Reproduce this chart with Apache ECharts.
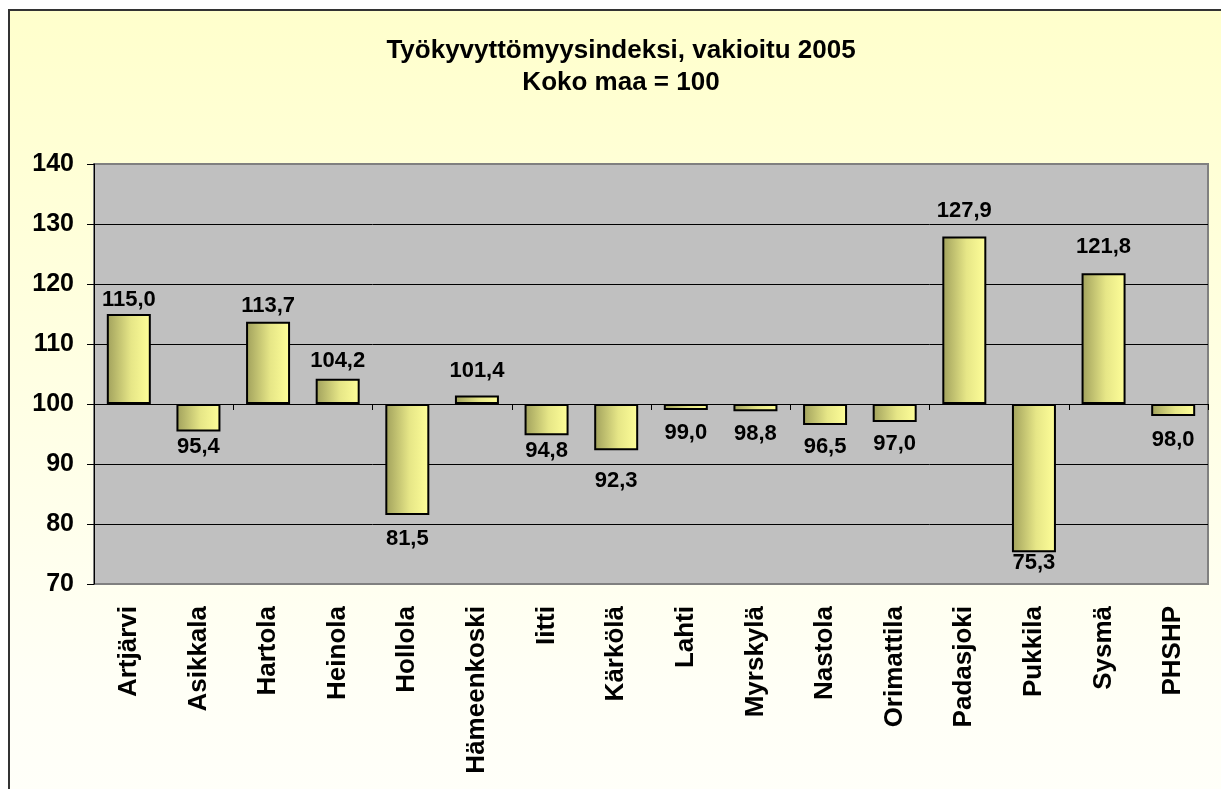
<!DOCTYPE html>
<html>
<head>
<meta charset="utf-8">
<script src="https://cdn.jsdelivr.net/npm/echarts@6/dist/echarts.min.js"></script>
<style>
  html, body { margin: 0; padding: 0; background: #fff; }
  #chart { width: 1221px; height: 789px; }
</style>
</head>
<body>
<div id="chart"></div>
<script>
// index is shown relative to the national level (100)
const categories = ['Artjärvi', 'Asikkala', 'Hartola', 'Heinola', 'Hollola', 'Hämeenkoski', 'Iitti', 'Kärkölä',
  'Lahti', 'Myrskylä', 'Nastola', 'Orimattila', 'Padasjoki', 'Pukkila', 'Sysmä', 'PHSHP']
const values = [115.0, 95.4, 113.7, 104.2, 81.5, 101.4, 94.8, 92.3, 99.0, 98.8, 96.5, 97.0, 127.9, 75.3, 121.8, 98.0]
const baseline = 100
const yTicks = [70, 80, 90, 100, 110, 120, 130, 140]

// labels in the original were nudged by hand, so each gets its own gap to the bar end
const labelGaps = [3, 4, 5, 7, 13, 14, 5, 20, 12, 12, 11, 11, 15, 0, 15, 13]

const font = '"Liberation Sans", Arial, sans-serif'

const chart = echarts.init(document.getElementById('chart'))

const barColor = new echarts.graphic.LinearGradient(0, 0, 1, 0, [
  { offset: 0, color: '#a0a05c' },
  { offset: 0.55, color: '#e6e687' },
  { offset: 1, color: '#ffff99' }
])

chart.setOption({
  animation: false,
  backgroundColor: '#fff',
  graphic: [{
    type: 'rect',
    z: -10,
    silent: true,
    shape: { x: 9, y: 10, width: 1300, height: 900 },
    style: {
      fill: new echarts.graphic.LinearGradient(0, 0, 0, 1, [
        { offset: 0, color: '#ffffcc' },
        { offset: 0.75, color: '#fffff6' },
        { offset: 1, color: '#fffffc' }
      ]),
      stroke: '#333',
      lineWidth: 2
    }
  }],
  title: {
    text: 'Työkyvyttömyysindeksi, vakioitu 2005\nKoko maa = 100',
    left: 616,
    top: 30,
    textAlign: 'center',
    textStyle: { fontFamily: font, fontWeight: 'bold', fontSize: 26, lineHeight: 32, color: '#000' }
  },
  grid: {
    left: 94, right: 13, top: 164, bottom: 205,
    show: true,
    backgroundColor: '#c0c0c0',
    borderColor: '#808080',
    borderWidth: 2
  },
  xAxis: [{
    type: 'category',
    data: categories,
    axisLine: { show: false, onZero: false },
    axisTick: { show: false },
    axisLabel: {
      rotate: 90, margin: 22, interval: 0,
      fontFamily: font, fontWeight: 'bold', fontSize: 26, color: '#000'
    }
  }, {
    type: 'category',
    position: 'bottom',
    data: categories,
    axisLine: { show: true, onZero: true, lineStyle: { color: '#000', width: 1 } },
    axisTick: { show: true, length: 6, lineStyle: { color: '#000' } },
    axisLabel: { show: false }
  }],
  yAxis: {
    type: 'value',
    min: yTicks[0] - baseline,
    max: yTicks[yTicks.length - 1] - baseline,
    interval: 10,
    axisLine: { show: true, lineStyle: { color: '#000', width: 1 } },
    axisTick: { show: true, length: 7, lineStyle: { color: '#000' } },
    splitLine: { show: true, showMinLine: false, showMaxLine: false, lineStyle: { color: '#000', width: 1 } },
    axisLabel: {
      margin: 20,
      formatter: (v) => String(v + baseline),
      fontFamily: font, fontWeight: 'bold', fontSize: 25, color: '#000'
    }
  },
  series: [{
    type: 'bar',
    xAxisIndex: 0,
    barWidth: 44,
    itemStyle: { color: barColor, borderColor: '#000', borderWidth: 2 },
    data: values.map((v, i) => ({
      value: +(v - baseline).toFixed(1),
      label: { position: v >= baseline ? 'top' : 'bottom', distance: labelGaps[i] }
    })),
    label: {
      show: true,
      formatter: (p) => values[p.dataIndex].toFixed(1).replace('.', ','),
      fontFamily: font, fontWeight: 'bold', fontSize: 22, color: '#000'
    }
  }]
})
</script>
</body>
</html>
